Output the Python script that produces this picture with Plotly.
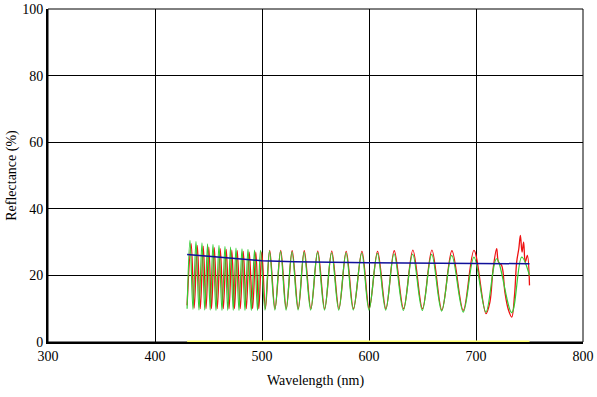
import plotly.graph_objects as go

# Green curve: extrema (wavelength nm, reflectance %)
green_wl = [430.0, 432.7, 435.5, 438.3, 441.1, 443.9, 446.5, 449.1, 451.6, 454.2,
            457.0, 459.8, 462.6, 465.4, 468.0, 470.6, 473.1, 475.7, 478.5, 481.3,
            484.1, 486.9, 490.0, 493.0, 495.8, 498.6, 502.8, 507.0, 512.0, 517.3,
            522.5, 528.0, 533.7, 539.3, 545.5, 551.9, 558.4, 565.0, 571.7, 578.5,
            585.3, 593.2, 600.0, 607.8, 615.6, 623.4, 632.1, 640.8, 649.8, 658.6,
            667.9, 677.3, 688.1, 698.1, 709.3, 719.3, 733.4, 742.7, 750.0]
green_r = [10.0, 30.5, 9.8, 30.2, 9.6, 29.8, 9.6, 29.5, 9.6, 29.3,
           9.5, 29.0, 9.5, 28.7, 9.5, 28.5, 9.5, 28.2, 9.5, 28.0,
           9.5, 27.8, 9.5, 27.6, 9.5, 27.5, 9.6, 27.3, 9.6, 27.2,
           9.6, 27.1, 9.6, 27.0, 9.6, 26.9, 9.6, 26.8, 9.6, 26.8,
           9.6, 26.7, 9.6, 26.6, 9.6, 26.5, 9.5, 26.4, 9.5, 26.3,
           9.3, 26.0, 9.0, 25.5, 9.0, 25.0, 8.8, 25.5, 20.0]

# Red curve: extrema
red_wl = [430.0, 433.8, 436.6, 439.5, 442.3, 445.1, 447.7, 450.3, 452.8, 455.4,
          458.2, 461.0, 463.8, 466.6, 469.2, 471.8, 474.3, 476.9, 479.7, 482.5,
          485.3, 488.1, 491.2, 494.2, 497.0, 499.8, 503.2, 507.2, 512.2, 517.5,
          522.7, 528.2, 533.9, 539.5, 545.7, 552.1, 558.6, 565.2, 571.9, 578.7,
          585.5, 593.4, 600.2, 608.0, 615.8, 623.6, 632.3, 641.0, 650.0, 658.8,
          668.1, 677.5, 688.1, 698.1, 709.3, 713.0, 716.0, 719.3, 721.0, 724.0,
          727.0, 730.0, 733.4, 736.0, 738.0, 740.0, 741.5, 743.0, 744.5, 746.0,
          748.0, 750.0]
red_r = [11.0, 29.5, 10.2, 29.0, 10.0, 28.8, 10.0, 28.5, 10.0, 28.3,
         10.0, 28.0, 10.0, 27.8, 10.0, 27.6, 10.0, 27.4, 10.0, 27.2,
         10.0, 27.0, 10.0, 27.0, 10.0, 27.0, 10.0, 27.5, 10.0, 27.5,
         10.0, 27.4, 10.0, 27.4, 10.0, 27.3, 10.0, 27.3, 10.0, 27.2,
         10.0, 27.2, 10.0, 27.2, 10.0, 27.4, 10.0, 27.6, 10.0, 27.6,
         9.6, 27.4, 9.5, 27.5, 8.5, 12.0, 22.0, 28.0, 24.0, 23.0,
         15.0, 10.0, 7.5, 14.0, 24.0, 28.0, 32.0, 27.0, 30.0, 24.0,
         26.0, 17.0]

# Blue (average) curve
blue_wl = [430, 440, 455, 470, 485, 500, 530, 600, 700, 750]
blue_r = [26.3, 26.0, 25.6, 25.2, 24.8, 24.4, 24.1, 23.8, 23.6, 23.5]

# Yellow baseline
yellow_wl = [430, 750]
yellow_r = [0, 0]

font_family = "Liberation Serif"

fig = go.Figure()
fig.add_trace(go.Scatter(x=yellow_wl, y=yellow_r, mode="lines",
                         line=dict(color="#ffff70", width=3), hoverinfo="skip"))
fig.add_trace(go.Scatter(x=red_wl, y=red_r, mode="lines",
                         line=dict(color="#ee1111", width=1.3, shape="spline", smoothing=1.0)))
fig.add_trace(go.Scatter(x=green_wl, y=green_r, mode="lines",
                         line=dict(color="#33cc33", width=1.2, shape="spline", smoothing=1.0)))
fig.add_trace(go.Scatter(x=blue_wl, y=blue_r, mode="lines",
                         line=dict(color="#10109a", width=1.5)))

fig.update_layout(
    width=597, height=397,
    margin=dict(l=48, r=14, t=9, b=55),
    paper_bgcolor="white", plot_bgcolor="white",
    showlegend=False,
    font=dict(family=font_family, size=14, color="black"),
)
fig.update_xaxes(
    range=[300, 800], dtick=100, tick0=300, automargin=False,
    showgrid=True, gridcolor="black", gridwidth=1,
    showline=True, linecolor="black", linewidth=2, mirror=False,
    zeroline=False, ticks="", layer="below traces",
    tickfont=dict(family=font_family, size=14, color="black"),
    title=dict(text="Wavelength (nm)", standoff=12,
               font=dict(family=font_family, size=14, color="black")),
)
fig.update_yaxes(
    range=[0, 100], dtick=20, automargin=False,
    showgrid=True, gridcolor="black", gridwidth=1,
    showline=True, linecolor="black", linewidth=2, mirror=False,
    zeroline=False, ticks="",
    tickfont=dict(family=font_family, size=14, color="black"),
    title=dict(text="Reflectance (%)", standoff=2,
               font=dict(family=font_family, size=14, color="black")),
)
# thin top and right frame
fig.add_shape(type="rect", xref="paper", yref="paper", x0=0, y0=0, x1=1, y1=1,
              line=dict(color="black", width=1), layer="below")

fig.write_html("out.html",
               config={"displayModeBar": False},
               post_script="document.body.style.margin='0';document.body.style.overflow='hidden';")
